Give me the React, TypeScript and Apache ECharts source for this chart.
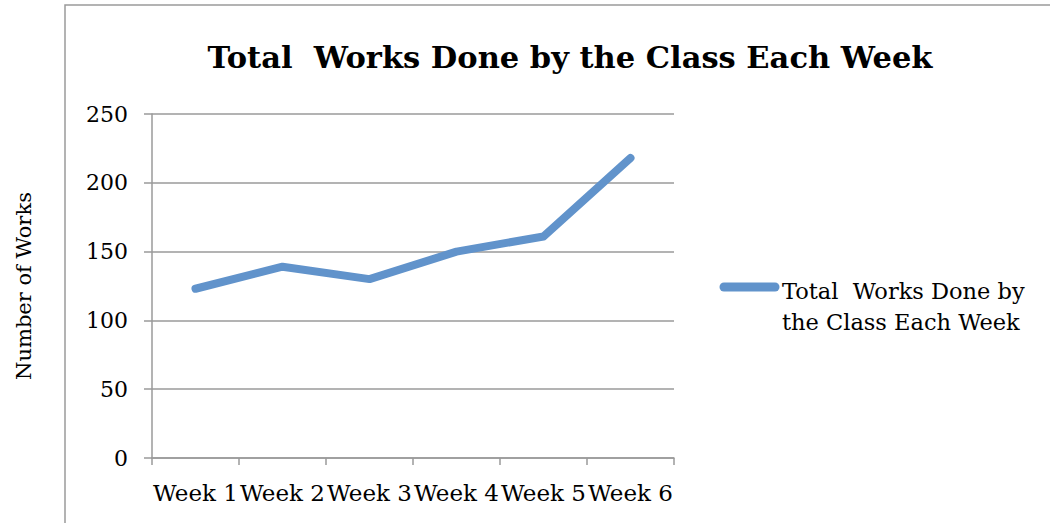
import React, { useEffect, useRef } from "react";
import * as echarts from "echarts";

const categories = ["Week 1", "Week 2", "Week 3", "Week 4", "Week 5", "Week 6"];
const seriesName = "Total  Works Done by the Class Each Week";
const legendLines = ["Total  Works Done by", "the Class Each Week"];
const values = [123, 139, 130, 150, 161, 218];
const yTicks = [0, 50, 100, 150, 200, 250];

const FONT = "'DejaVu Serif', 'Liberation Serif', serif";
const LINE_COLOR = "#6193cb";

export default function App() {
  const ref = useRef<HTMLDivElement>(null);
  useEffect(() => {
    document.body.style.margin = "0";
    const chart = echarts.init(ref.current!, null, { renderer: "svg" });
    chart.setOption({
      animation: false,
      textStyle: { fontFamily: FONT },
      title: {
        text: seriesName,
        left: 565,
        top: 36,
        textAlign: "center",
        textStyle: { fontFamily: FONT, fontWeight: "bold", fontSize: 30.5, color: "#000" },
      },
      graphic: [
        {
          type: "rect",
          shape: { x: 65, y: 5, width: 1200, height: 700 },
          style: { fill: "none", stroke: "#9a9a9a", lineWidth: 1.5 },
          silent: true,
        },
        {
          type: "line",
          shape: { x1: 724, y1: 287, x2: 775, y2: 287 },
          style: { stroke: LINE_COLOR, lineWidth: 9, lineCap: "round" },
          silent: true,
        },
        {
          type: "text",
          x: 782,
          y: 275,
          style: {
            text: legendLines.join("\n"),
            fontFamily: FONT,
            fontSize: 22.5,
            lineHeight: 31,
            fill: "#000",
          },
          silent: true,
        },
      ],
      grid: { left: 152, top: 114, width: 522, height: 344 },
      xAxis: {
        type: "category",
        data: categories,
        boundaryGap: true,
        axisLine: { lineStyle: { color: "#9a9a9a", width: 1.5 } },
        axisTick: { show: true, length: 7, lineStyle: { color: "#9a9a9a", width: 1.5 } },
        axisLabel: { color: "#000", fontSize: 23, fontFamily: FONT, margin: 23, interval: 0 },
      },
      yAxis: {
        type: "value",
        min: 0,
        max: 250,
        interval: 50,
        name: "Number of Works",
        nameLocation: "middle",
        nameGap: 118,
        nameTextStyle: { fontFamily: FONT, fontSize: 21, color: "#000" },
        axisLine: { show: true, lineStyle: { color: "#9a9a9a", width: 1.5 } },
        axisTick: { show: true, length: 8, lineStyle: { color: "#9a9a9a", width: 1.5 } },
        axisLabel: {
          color: "#000",
          fontSize: 22,
          fontFamily: FONT,
          margin: 24,
          formatter: (v: number) => (yTicks.includes(v) ? String(v) : ""),
        },
        splitLine: { lineStyle: { color: "#9a9a9a", width: 1.5 } },
      },
      series: [
        {
          name: seriesName,
          type: "line",
          data: values,
          showSymbol: false,
          symbol: "none",
          itemStyle: { color: LINE_COLOR },
          lineStyle: { color: LINE_COLOR, width: 8, cap: "round", join: "round" },
        },
      ],
    });
    return () => chart.dispose();
  }, []);
  return <div ref={ref} style={{ width: 1050, height: 523 }} />;
}
